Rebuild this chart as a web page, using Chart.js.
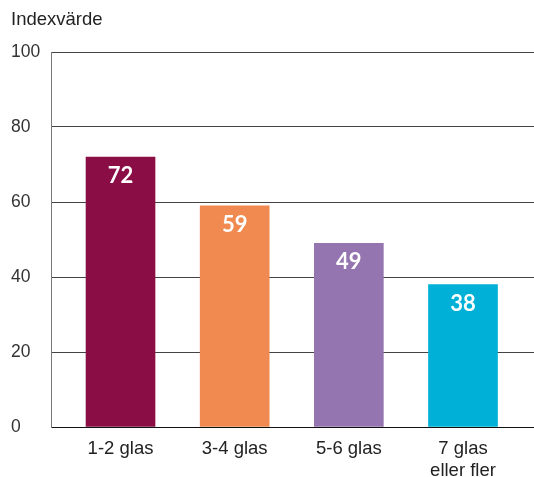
<!DOCTYPE html>
<html>
<head>
<meta charset="utf-8">
<script src="https://cdn.jsdelivr.net/npm/chart.js@4"></script>
<style>
  html, body { margin: 0; padding: 0; background: #fff; }
  #wrap { width: 534px; height: 477px; }
</style>
</head>
<body>
<div id="wrap"><canvas id="myChart" width="534" height="477"></canvas></div>
<script>
// chart data
var categories = ['1-2 glas', '3-4 glas', '5-6 glas', '7 glas eller fler'];
var tickLabels = ['1-2 glas', '3-4 glas', '5-6 glas', ['7 glas', 'eller fler']];
var values = [72, 59, 49, 38];
var barColors = ['#8b0d45', '#f08a50', '#9475b0', '#00b0d6'];
var yTicks = [0, 20, 40, 60, 80, 100];

var fontFamily = '"Liberation Sans", Arial, sans-serif';

// white numbers inside the top of each bar
var valueLabels = {
    id: 'valueLabels',
    afterDatasetsDraw: function(chart){
        var ctx = chart.ctx;
        var meta = chart.getDatasetMeta(0);
        ctx.save();
        ctx.fillStyle = '#fff';
        ctx.font = 'bold 22px Lato, "Liberation Sans", sans-serif';
        ctx.textAlign = 'center';
        ctx.textBaseline = 'middle';
        meta.data.forEach(function(bar, i){
            ctx.fillText(values[i], bar.x, bar.y + 19);
        });
        ctx.restore();
    }
};

var ctx = document.getElementById('myChart').getContext('2d');

var myChart = new Chart(ctx, {
    type: 'bar',
    data: {
        datasets: [{
            data: categories.map(function(c, i){ return { x: i + 1, y: values[i] }; }),
            backgroundColor: barColors,
            barThickness: 69,
            borderWidth: 0
        }]
    },
    options: {
        responsive: false,
        animation: false,
        layout: { padding: { left: 11, right: 0, top: 0, bottom: 0 } },
        plugins: {
            legend: { display: false },
            tooltip: { enabled: false },
            title: {
                display: true,
                text: 'Indexvärde',
                align: 'start',
                color: '#222',
                font: { family: fontFamily, size: 18.5, weight: 'normal' },
                padding: { top: 9, bottom: 20.8 }
            }
        },
        scales: {
            x: {
                type: 'linear',
                offset: false,
                bounds: 'ticks',
                min: 0.391,
                max: 4.622,
                afterDataLimits: function(scale){
                    scale.min = 0.391;
                    scale.max = 4.622;
                },
                afterBuildTicks: function(scale){
                    scale.ticks = categories.map(function(c, i){ return { value: i + 1 }; });
                },
                afterFit: function(scale){ scale.height = 50; },
                grid: { display: false, drawTicks: false, offset: false },
                border: { display: true, color: '#111', width: 1 },
                ticks: {
                    autoSkip: false,
                    maxRotation: 0,
                    padding: 11,
                    color: '#222',
                    font: { family: fontFamily, size: 18.5 },
                    callback: function(v){ return tickLabels[v - 1]; }
                }
            },
            y: {
                min: 0,
                max: 100,
                afterBuildTicks: function(scale){
                    scale.ticks = yTicks.map(function(v){ return { value: v }; });
                },
                afterFit: function(scale){ scale.width = 40; },
                grid: { color: '#444', lineWidth: 1, drawTicks: false },
                border: { display: true, color: '#777', width: 1 },
                ticks: {
                    crossAlign: 'far',
                    padding: 0,
                    color: '#333',
                    font: { family: fontFamily, size: 17.5 }
                }
            }
        }
    },
    plugins: [valueLabels]
});
</script>
</body>
</html>
